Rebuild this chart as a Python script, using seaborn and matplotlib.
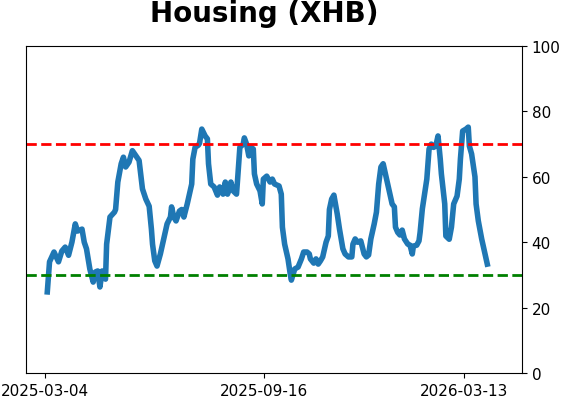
import pandas as pd
import seaborn as sns
import matplotlib
matplotlib.use('Agg')
import matplotlib.pyplot as plt
import matplotlib.dates as mdates

# ==================== data ====================
START_DATE = "2025-03-04"
# days since START_DATE
day_offsets = [
    2, 4, 8, 12, 15, 18, 21, 24, 27, 29, 33, 35, 37, 40, 43, 45, 47, 49, 51, 54,
    55, 58, 62, 63, 65, 68, 70, 72, 75, 78, 80, 84, 87, 90, 93, 95, 96, 98, 100, 103,
    106, 109, 112, 113, 115, 117, 120, 122, 124, 127, 129, 131, 132, 134, 137, 138, 140, 143, 145, 146,
    148, 151, 154, 156, 159, 161, 163, 166, 168, 171, 172, 174, 177, 178, 180, 182, 184, 186, 187, 189,
    192, 194, 195, 198, 201, 203, 205, 209, 211, 212, 214, 217, 219, 220, 223, 226, 229, 231, 234, 236,
    237, 240, 242, 244, 246, 248, 251, 253, 254, 256, 258, 261, 263, 266, 268, 271, 274, 275, 277, 279,
    282, 285, 287, 289, 291, 294, 296, 298, 300, 302, 304, 307, 310, 312, 313, 315, 317, 319, 321, 324,
    326, 328, 329, 332, 334, 335, 337, 339, 341, 343, 345, 347, 349, 351, 353, 354, 357, 358, 361, 363,
    365, 368, 370, 371, 373, 376, 378, 379, 381, 384, 385, 387, 390, 392, 395,
]
values = [
    24.8, 34.0, 37.0, 34.0, 37.3, 38.5, 36.0, 40.0, 45.6, 43.4, 44.0, 40.0, 38.0, 31.8, 27.8, 30.9, 31.2, 26.3, 31.2, 28.7,
    39.4, 47.7, 49.2, 50.0, 58.4, 64.0, 66.0, 63.0, 64.5, 68.0, 67.0, 65.0, 56.3, 53.2, 51.0, 44.0, 39.4, 34.3, 32.7, 36.4,
    41.0, 45.6, 47.7, 50.8, 47.7, 46.5, 49.5, 50.0, 47.7, 51.7, 54.7, 57.8, 65.4, 69.0, 69.7, 70.3, 74.6, 72.5, 71.6, 64.0,
    57.8, 56.9, 54.4, 56.9, 54.7, 58.4, 54.7, 58.4, 55.7, 54.7, 59.3, 69.0, 70.0, 71.9, 70.0, 66.4, 69.0, 68.5, 60.9, 57.8,
    55.7, 51.7, 59.3, 60.2, 58.4, 59.3, 57.8, 57.2, 54.7, 44.6, 39.4, 34.9, 30.3, 28.4, 31.8, 32.4, 34.9, 37.0, 37.0, 36.4,
    34.9, 33.6, 34.9, 33.3, 34.3, 35.5, 40.0, 41.9, 50.0, 53.2, 54.4, 48.6, 44.0, 38.0, 36.4, 35.5, 35.5, 39.4, 41.0, 40.0,
    40.4, 36.4, 35.5, 36.1, 41.0, 45.6, 49.2, 57.8, 63.0, 64.0, 60.9, 56.3, 51.7, 50.8, 44.6, 43.0, 42.2, 43.7, 41.0, 39.4,
    39.1, 36.4, 38.8, 39.1, 40.4, 43.0, 50.2, 54.7, 59.3, 68.5, 70.0, 69.0, 69.4, 72.5, 65.4, 60.9, 51.7, 41.9, 40.9, 44.6,
    51.7, 54.1, 59.3, 65.4, 74.0, 74.6, 75.2, 69.4, 67.0, 60.0, 51.7, 46.5, 41.0, 37.9, 33.3,
]
tick_dates = ["2025-03-04", "2025-09-16", "2026-03-13"]
upper_level = 70
lower_level = 30
title_text = "Housing (XHB)"

# ==================== figure ====================
df = pd.DataFrame({
    "date": pd.Timestamp(START_DATE) + pd.to_timedelta(day_offsets, unit="D"),
    "value": values,
})

fig = plt.figure(figsize=(5.62, 4.02), dpi=100)
ax = fig.add_axes([0.0463, 0.0697, 0.8825, 0.8133])

sns.lineplot(data=df, x="date", y="value", color="#1f77b4", linewidth=4, ax=ax)
ax.axhline(upper_level, color="red", linestyle="--", linewidth=2)
ax.axhline(lower_level, color="green", linestyle="--", linewidth=2)

ax.set_ylim(0, 100)
ax.set_xlim(pd.Timestamp("2025-02-15"), pd.Timestamp("2026-05-04"))
ax.yaxis.tick_right()
ax.set_yticks([0, 20, 40, 60, 80, 100])
ax.set_xticks(pd.to_datetime(tick_dates))
ax.xaxis.set_major_formatter(mdates.DateFormatter("%Y-%m-%d"))
ax.tick_params(labelsize=11)
ax.set_xlabel("")
ax.set_ylabel("")
ax.set_title(title_text, fontsize=20, fontweight="bold", pad=18, x=0.48)

fig.savefig("out.png", dpi=100)
plt.close("all")
